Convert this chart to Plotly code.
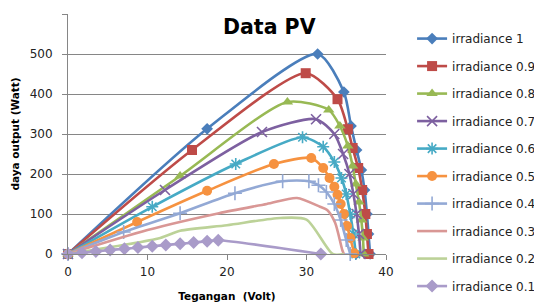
import plotly.graph_objects as go

# ---- data (Tegangan in Volt, daya in Watt) ----
names = ["irradiance 1", "irradiance 0.9", "irradiance 0.8", "irradiance 0.7",
         "irradiance 0.6", "irradiance 0.5", "irradiance 0.4", "irradiance 0.3",
         "irradiance 0.2", "irradiance 0.1"]

v_10 = [0, 17.5, 31.4, 34.7, 35.6, 36.3, 36.9, 37.3, 37.6, 37.8, 38.0]
p_10 = [0, 313, 500, 405, 320, 260, 210, 160, 100, 50, 0]

v_09 = [0, 15.6, 29.9, 33.9, 35.2, 35.8, 36.5, 37.0, 37.4, 37.6, 37.8]
p_09 = [0, 260, 452, 387, 312, 265, 215, 160, 100, 50, 0]

v_08 = [0, 14.1, 27.6, 32.8, 34.2, 35.2, 35.8, 36.2, 36.6, 36.9, 37.1, 37.2]
p_08 = [0, 195, 380, 360, 320, 270, 220, 175, 130, 85, 40, 0]

v_07 = [0, 12.2, 24.4, 31.2, 33.5, 34.6, 35.4, 35.9, 36.3, 36.6, 36.8]
p_07 = [0, 160, 305, 337, 300, 250, 200, 150, 100, 50, 0]

v_06 = [0, 10.6, 21.1, 29.5, 32.1, 33.5, 34.4, 35.0, 35.5, 35.9, 36.2]
p_06 = [0, 118, 225, 292, 268, 230, 190, 150, 100, 50, 0]

v_05 = [0, 8.7, 17.5, 25.9, 30.6, 32.1, 32.9, 33.5, 33.9, 34.3, 34.7, 35.1, 35.5, 36.0]
p_05 = [0, 80, 158, 225, 240, 215, 190, 168, 148, 125, 100, 70, 40, 2]

v_04 = [0, 7.0, 14.1, 21.0, 27.0, 30.3, 31.5, 32.5, 33.5, 34.3, 35.0, 35.5]
p_04 = [0, 55, 102, 152, 182, 182, 172, 155, 125, 85, 35, 0]

v_03 = [0, 10.0, 19.0, 25.0, 28.8, 31.7, 32.6, 33.6, 34.5, 34.7]
p_03 = [0, 60, 102, 125, 140, 118, 110, 78, 10, 0]

v_02 = [0, 11.6, 14.1, 20.0, 26.7, 30.0, 33.3, 34.7]
p_02 = [0, 40, 58, 72, 90, 86, 0, 0]

v_01 = [0, 1.76, 3.5, 5.3, 7.1, 8.8, 10.6, 12.3, 14.1, 15.8, 17.5, 18.9, 31.8]
p_01 = [0, 3, 6.5, 10, 13, 16, 19.5, 22.5, 25.5, 28.5, 32, 34.5, 0]

x_ticks = [0, 10, 20, 30, 40]
y_ticks = [0, 100, 200, 300, 400, 500, 600]

series_v = [v_10, v_09, v_08, v_07, v_06, v_05, v_04, v_03, v_02, v_01]
series_p = [p_10, p_09, p_08, p_07, p_06, p_05, p_04, p_03, p_02, p_01]

colors = ["#4A7EBB", "#BE4B48", "#98B954", "#7D60A0", "#46AAC5",
          "#F69240", "#93A9D5", "#D99795", "#BCD298", "#A99BC9"]
symbols = ["diamond", "square", "triangle-up", "x-thin", "asterisk",
           "circle", "cross-thin", None, None, "diamond"]
sizes = [9, 10, 10, 10, 10, 10, 10, 0, 0, 10]

FONT = "DejaVu Sans"

fig = go.Figure()
for i in range(len(names)):
    c = colors[i]
    sym = symbols[i]
    if sym is None:
        mode = "lines"
        marker = dict(color=c)
    else:
        mode = "lines+markers"
        thin = sym.endswith("-thin") or sym == "asterisk"
        marker = dict(symbol=sym, size=sizes[i], color=c,
                      line=dict(width=1.6 if thin else 0, color=c))
    fig.add_trace(go.Scatter(
        x=series_v[i], y=series_p[i], name=names[i], mode=mode,
        line=dict(color=c, width=2.6, shape="spline", smoothing=0.7),
        marker=marker, cliponaxis=False, legendgroup=names[i],
    ))

# page body has an 8px margin, so the figure is 8px smaller on each axis
fig.update_layout(
    width=534, height=298,
    margin=dict(l=60, r=156, t=6, b=52, autoexpand=False),
    paper_bgcolor="white", plot_bgcolor="white",
    font=dict(family=FONT, size=12, color="#222222"),
    showlegend=True,
    legend=dict(x=1.082, xanchor="left", y=0.958, yanchor="top",
                maxheight=290,
                font=dict(family=FONT, size=12, color="#222222"),
                tracegroupgap=8.5, itemwidth=30, bgcolor="rgba(0,0,0,0)"),
    annotations=[dict(text="<b>Data PV</b>", x=0.635, y=0.946,
                      xref="paper", yref="paper", yanchor="middle",
                      showarrow=False,
                      font=dict(family=FONT, size=20.5, color="#000000"))],
)
fig.update_xaxes(range=[0, 40], tickvals=x_ticks, showgrid=False,
                 showline=True, linecolor="#868686", linewidth=1,
                 ticks="outside", ticklen=5, tickcolor="#868686",
                 ticklabelstandoff=2,
                 zeroline=False, tickfont=dict(size=12),
                 title=dict(text="<b>Tegangan  (Volt)</b>",
                            font=dict(family=FONT, size=10.5, color="#000000"),
                            standoff=14))
fig.update_yaxes(range=[0, 600], tickvals=y_ticks, showgrid=True,
                 gridcolor="#868686", gridwidth=1,
                 showline=True, linecolor="#868686", linewidth=1,
                 ticks="outside", ticklen=5, tickcolor="#868686",
                 ticklabelstandoff=7,
                 zeroline=False, tickfont=dict(size=12),
                 title=dict(text="<b>daya output (Watt)</b>",
                            font=dict(family=FONT, size=10.5, color="#000000"),
                            standoff=8))

fig.write_html("out.html")
